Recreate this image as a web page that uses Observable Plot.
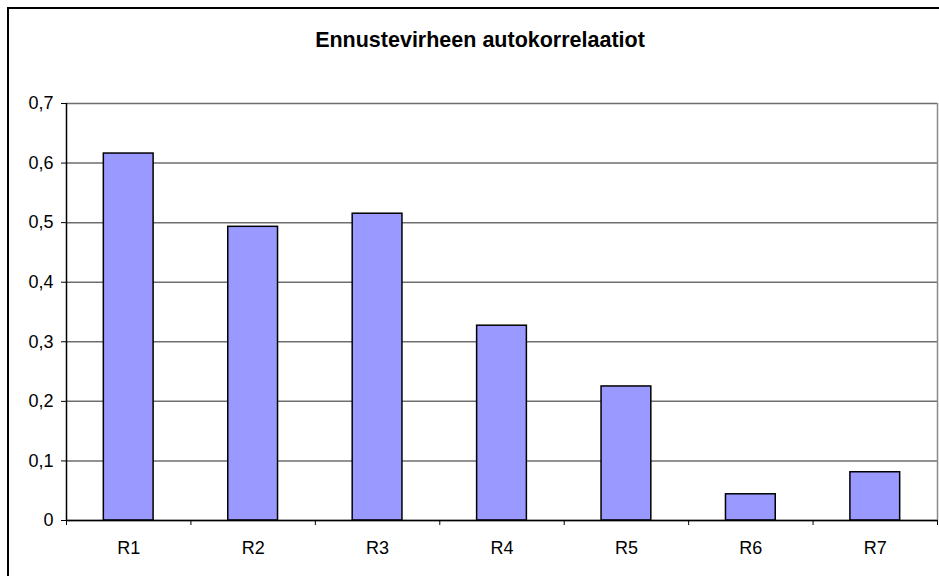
<!DOCTYPE html>
<html>
<head>
<meta charset="utf-8">
<script src="https://cdn.jsdelivr.net/npm/d3@7"></script>
<script src="https://cdn.jsdelivr.net/npm/@observablehq/plot@0.6"></script>
<style>
  html, body { margin: 0; padding: 0; background: #fff; }
  #wrap { position: relative; width: 939px; height: 576px; overflow: hidden; font-family: "Liberation Sans", Arial, sans-serif; }
  #frame { position: absolute; left: 7px; top: 7px; width: 960px; height: 600px; border: 2px solid #000; box-sizing: border-box; }
  #title { position: absolute; left: 0; width: 960px; top: 28px; text-align: center; font-weight: bold; font-size: 21.5px; line-height: 24px; color: #000; }
  #chart { position: absolute; left: 0; top: 0; }
</style>
</head>
<body>
<div id="wrap">
  <div id="frame"></div>
  <div id="chart"></div>
  <div id="title">Ennustevirheen autokorrelaatiot</div>
</div>
<script>
const categories = ["R1", "R2", "R3", "R4", "R5", "R6", "R7"];
const values = [0.616, 0.493, 0.515, 0.327, 0.225, 0.044, 0.081];
const yTicks = [0, 0.1, 0.2, 0.3, 0.4, 0.5, 0.6, 0.7];

const data = categories.map((c, i) => ({ cat: c, idx: i + 1, value: values[i] }));
const centers = data.map(d => d.idx);
const bounds = d3.range(0.5, categories.length + 1, 1);
const fmt = d => d === 0 ? "0" : d3.format(".1f")(d).replace(".", ",");

const plot = Plot.plot({
  width: 939,
  height: 576,
  marginLeft: 66,
  marginRight: 2,
  marginTop: 103,
  marginBottom: 56,
  style: { fontFamily: "'Liberation Sans', Arial, sans-serif", fontSize: "18px", background: "transparent", color: "#000" },
  x: { type: "linear", domain: [0.5, categories.length + 0.5] },
  y: { domain: [0, 0.7] },
  marks: [
    Plot.gridY(yTicks, { stroke: "#6e6e6e", strokeOpacity: 1, strokeWidth: 1.5 }),
    Plot.ruleX([categories.length + 0.5], { stroke: "#8a8a8a", strokeWidth: 1.5 }),
    Plot.rectY(data, { x1: d => d.idx - 0.2, x2: d => d.idx + 0.2, y1: 0, y2: "value", fill: "#9999ff", stroke: "#000", strokeWidth: 1.5 }),
    Plot.axisY(yTicks, { tickSize: 5, tickPadding: 8, tickFormat: fmt, stroke: "#000", fontSize: 18, label: null }),
    Plot.ruleX([0.5], { stroke: "#000", strokeWidth: 1.5 }),
    Plot.ruleY([0], { stroke: "#000", strokeWidth: 1.5 }),
    Plot.axisX(bounds, { tickSize: 5, tickFormat: () => "", stroke: "#000", label: null }),
    Plot.axisX(centers, { tickSize: 0, tickPadding: 21, tickFormat: i => categories[i - 1], fontSize: 18, label: null })
  ]
});
document.getElementById("chart").appendChild(plot);
</script>
</body>
</html>
